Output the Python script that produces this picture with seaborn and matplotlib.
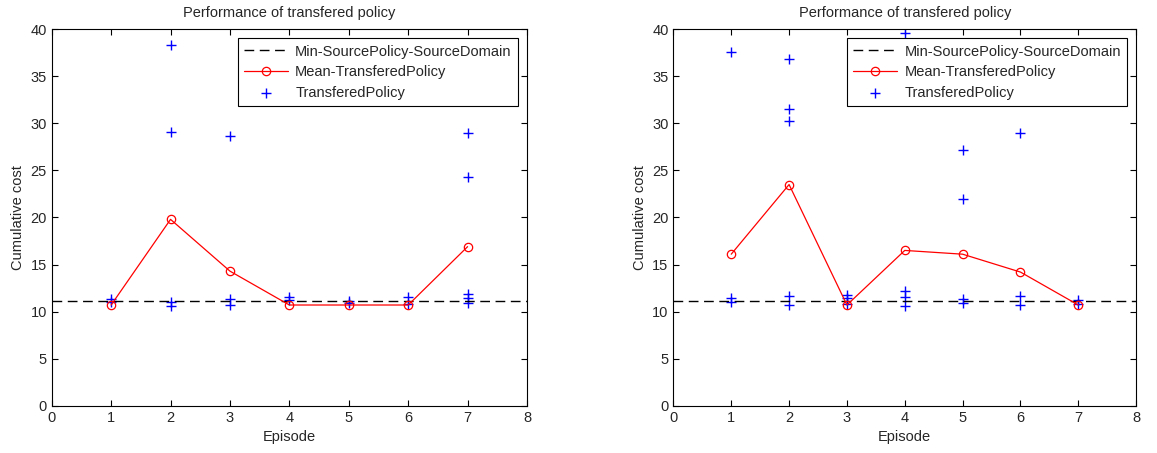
import pandas as pd
import matplotlib
matplotlib.use('Agg')
import matplotlib.pyplot as plt
import seaborn as sns

# episodes and data
episodes = [1, 2, 3, 4, 5, 6, 7]
min_source = 11.1

left_mean = [10.7, 19.8, 14.3, 10.7, 10.7, 10.7, 16.9]
left_trial_ep = [1, 1, 2, 2, 2, 2, 3, 3, 3, 4, 4, 5, 5, 6, 6, 7, 7, 7, 7, 7]
left_trial_cost = [11.3, 11.0, 38.3, 29.1, 11.0, 10.6, 28.7, 11.3, 10.7, 11.6, 11.2,
                   11.1, 10.9, 11.5, 10.8, 29.0, 24.3, 11.9, 11.4, 10.9]

right_mean = [16.1, 23.5, 10.7, 16.5, 16.1, 14.2, 10.7]
right_trial_ep = [1, 1, 1, 2, 2, 2, 2, 2, 3, 3, 3, 4, 4, 4, 4, 5, 5, 5, 5, 6, 6, 6, 7, 7]
right_trial_cost = [37.6, 11.4, 11.0, 36.8, 31.5, 30.3, 11.7, 10.7, 11.8, 11.4, 10.8,
                    39.6, 12.2, 11.5, 10.6, 27.2, 22.0, 11.3, 10.9, 29.0, 11.7, 10.7,
                    11.2, 10.8]

sns.set_theme(style='ticks')
plt.rcParams['font.family'] = ['Liberation Sans', 'DejaVu Sans']
plt.rcParams['xtick.direction'] = 'in'
plt.rcParams['ytick.direction'] = 'in'
plt.rcParams['xtick.top'] = True
plt.rcParams['ytick.right'] = True

fig = plt.figure(figsize=(11.57, 4.53), dpi=100)
ax1 = fig.add_axes([0.0447, 0.1044, 0.4108, 0.831])
ax2 = fig.add_axes([0.582, 0.1044, 0.400, 0.831])


def draw(ax, mean, tr_ep, tr_cost):
    ax.axhline(min_source, color='black', linestyle=(0, (7, 4)), linewidth=1,
               label='Min-SourcePolicy-SourceDomain')
    sns.lineplot(x=episodes, y=mean, ax=ax, color='red', linewidth=0.9,
                 marker='o', markersize=6, markerfacecolor='none',
                 markeredgecolor='red', markeredgewidth=0.9,
                 label='Mean-TransferedPolicy')
    sns.scatterplot(x=tr_ep, y=tr_cost, ax=ax, marker='+', color='blue',
                    s=60, linewidth=1, label='TransferedPolicy')
    ax.set_xlim(0, 8)
    ax.set_ylim(0, 40)
    ax.set_xticks(range(0, 9))
    ax.set_yticks(range(0, 41, 5))
    ax.set_title('Performance of transfered policy', fontsize=10.5, pad=9)
    ax.set_xlabel('Episode', fontsize=10.5)
    ax.set_ylabel('Cumulative cost', fontsize=10.5)
    ax.tick_params(labelsize=10.5, length=4, width=0.8, color='black')
    for s in ax.spines.values():
        s.set_color('black')
        s.set_linewidth(0.8)
    leg = ax.legend(loc='upper right', fontsize=10.5, fancybox=False, framealpha=1,
                    edgecolor='black', borderaxespad=0.6, handlelength=3,
                    handletextpad=0.5, borderpad=0.45, labelspacing=0.45)
    leg.get_frame().set_linewidth(0.8)


draw(ax1, left_mean, left_trial_ep, left_trial_cost)
draw(ax2, right_mean, right_trial_ep, right_trial_cost)

fig.savefig('out.png', dpi=100)
